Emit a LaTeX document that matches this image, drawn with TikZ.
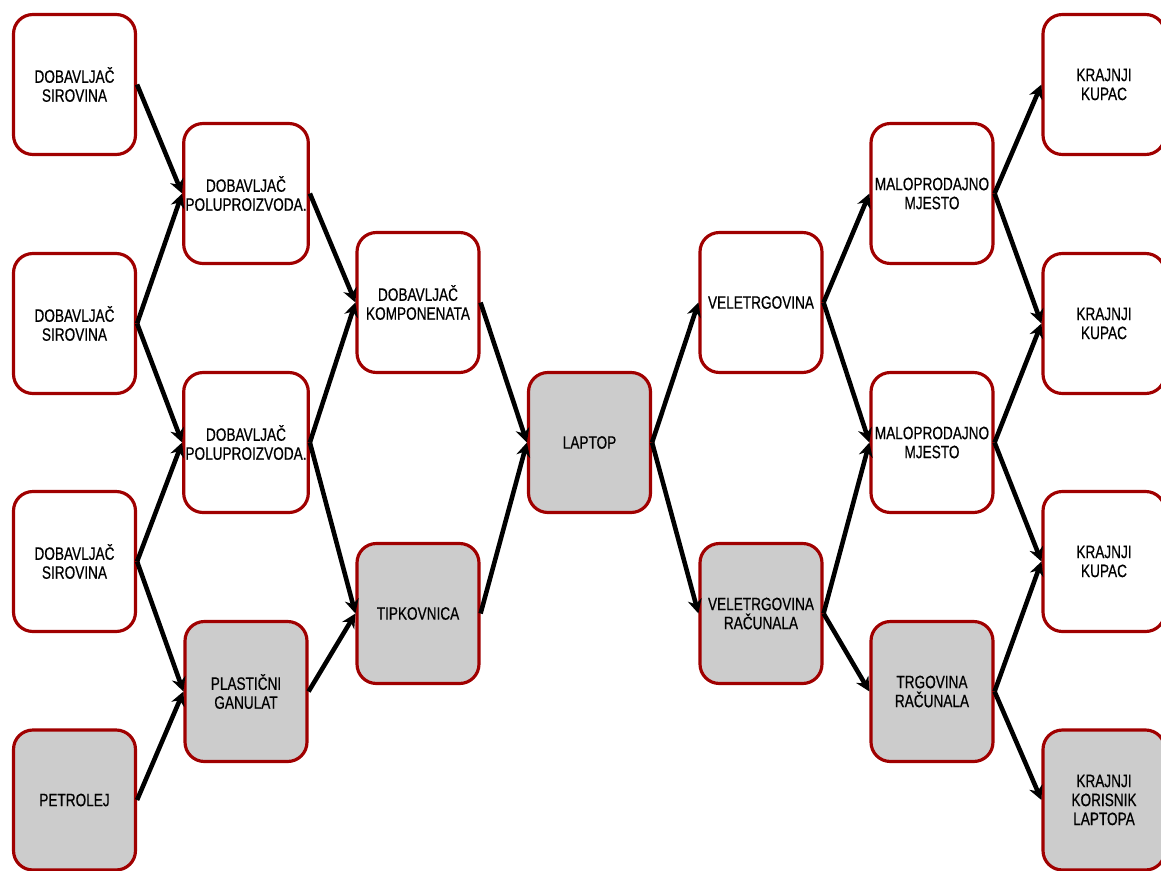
\documentclass[tikz,border=0pt]{standalone}
\usepackage{fontspec}
\setmainfont{Liberation Sans}[FakeStretch=0.76, FakeBold=0.6]
\usepackage{tikz}
\usetikzlibrary{arrows.meta}

\definecolor{tamnocrvena}{RGB}{160,0,0}
\definecolor{siva}{RGB}{204,204,204}

\begin{document}
\begin{tikzpicture}[x=0.02cm, y=-0.02cm,
    kutija/.style={draw=tamnocrvena, line width=1.8pt, fill=white, rounded corners=11pt,
      minimum width=2.44cm, minimum height=2.8cm, inner sep=1pt, align=center,
      font=\fontsize{10.2}{10.8}\selectfont},
    sivakutija/.style={kutija, fill=siva},
    veza/.style={-{Stealth[length=8pt,width=8pt]}, line width=2.6pt}]
  \useasboundingbox (0,0) rectangle (1161,870);

  % dobavljaci
  \node[kutija] (sir1) at (74.5,84.5) {DOBAVLJAČ\\SIROVINA};
  \node[kutija] (sir2) at (74.5,323.5) {DOBAVLJAČ\\SIROVINA};
  \node[kutija] (sir3) at (74.5,561.5) {DOBAVLJAČ\\SIROVINA};
  \node[sivakutija] (petrolej) at (74.5,800) {PETROLEJ};

  \node[kutija] (polu1) at (246,193.5) {DOBAVLJAČ\\POLUPROIZVODA.};
  \node[kutija] (polu2) at (246,442.5) {DOBAVLJAČ\\POLUPROIZVODA.};
  \node[sivakutija] (granulat) at (246,691.5) {PLASTIČNI\\GANULAT};

  \node[kutija] (komp) at (418,302.5) {DOBAVLJAČ\\KOMPONENATA};
  \node[sivakutija] (tipk) at (418,613.5) {TIPKOVNICA};

  \node[sivakutija] (laptop) at (589.5,442.5) {LAPTOP};

  % distribucija
  \node[kutija] (vel) at (761,302.5) {VELETRGOVINA};
  \node[sivakutija] (velrac) at (761,613.5) {VELETRGOVINA\\RAČUNALA};

  \node[kutija] (malo1) at (932,193.5) {MALOPRODAJNO\\MJESTO};
  \node[kutija] (malo2) at (932,442.5) {MALOPRODAJNO\\MJESTO};
  \node[sivakutija] (trg) at (932,691.5) {TRGOVINA\\RAČUNALA};

  \node[kutija] (kup1) at (1104,84.5) {KRAJNJI\\KUPAC};
  \node[kutija] (kup2) at (1104,323.5) {KRAJNJI\\KUPAC};
  \node[kutija] (kup3) at (1104,561.5) {KRAJNJI\\KUPAC};
  \node[sivakutija] (korisnik) at (1104,800) {KRAJNJI\\KORISNIK\\LAPTOPA};

  \foreach \a/\b in {sir1/polu1, sir2/polu1, sir2/polu2, sir3/polu2, sir3/granulat,
      petrolej/granulat, polu1/komp, polu2/komp, polu2/tipk, granulat/tipk,
      komp/laptop, tipk/laptop, laptop/vel, laptop/velrac,
      vel/malo1, vel/malo2, velrac/malo2, velrac/trg,
      malo1/kup1, malo1/kup2, malo2/kup2, malo2/kup3, trg/kup3, trg/korisnik}{
    \draw[veza] (\a.east) -- (\b.west);
  }
\end{tikzpicture}
\end{document}
